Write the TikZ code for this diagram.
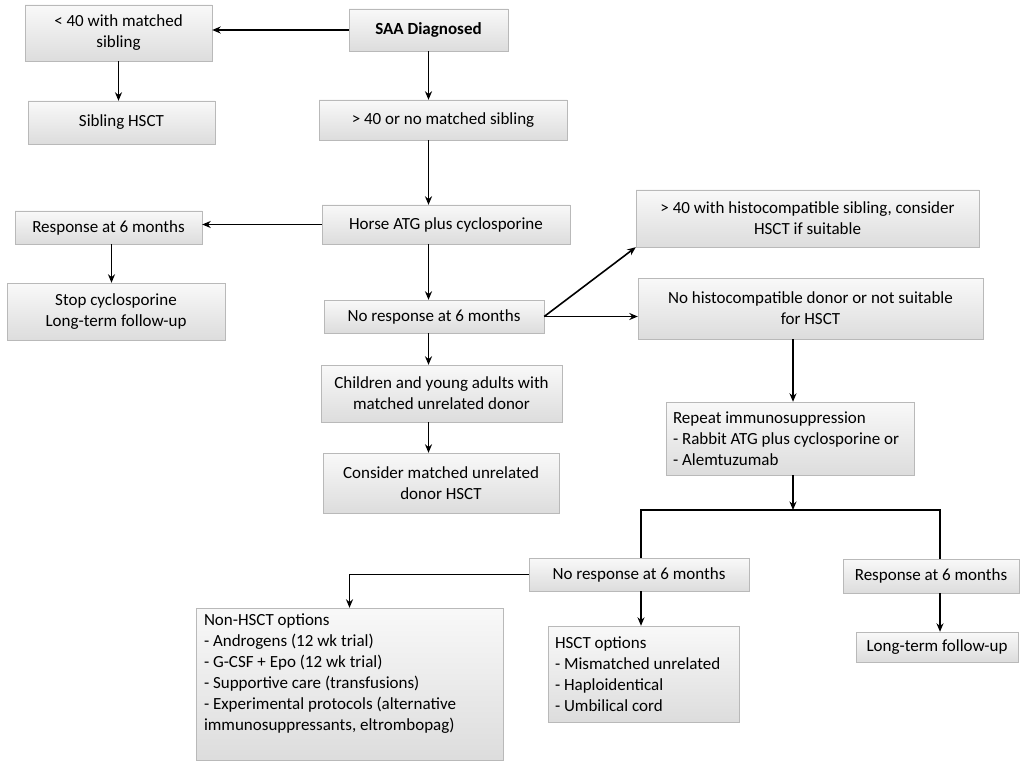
\documentclass[tikz,border=0pt]{standalone}
\usepackage{fontspec}
\setmainfont{Carlito}
\usetikzlibrary{arrows.meta}

\tikzset{
  box/.style={draw=gray!55, top color=gray!5, bottom color=gray!27, inner sep=0pt,
    align=center, font=\fontsize{17}{21}\selectfont},
  lbox/.style={box, align=flush left, inner xsep=7pt},
  arr/.style={-{Stealth[length=8.5pt,width=7pt]}, line width=1.6pt},
  ln/.style={line width=1.6pt}
}

\begin{document}
\begin{tikzpicture}[x=1pt, y={(0pt,-1pt)}]
        \useasboundingbox (0,0) rectangle (1024,767);

        %top
        \node[box, font=\fontsize{17}{21}\selectfont\bfseries, minimum width=159pt, minimum height=42pt] (saa) at (428.5,30) {SAA Diagnosed};
        \node[box, minimum width=187pt, minimum height=56pt] (lt40) at (118.5,33) {< 40 with matched\\ sibling};
        \node[box, minimum width=187pt, minimum height=43pt] (sibhsct) at (121.5,122.5) {Sibling HSCT};
        \node[box, minimum width=248pt, minimum height=40pt] (gt40) at (443,120) {> 40 or no matched sibling};

        %first line treatment
        \node[box, minimum width=248pt, minimum height=39pt] (horse) at (446,224.5) {Horse ATG plus cyclosporine};
        \node[box, minimum width=187pt, minimum height=33pt] (resp1) at (108.5,227.5) {Response at 6 months};
        \node[box, minimum width=218pt, minimum height=57pt] (stop) at (116,311.5) {Stop cyclosporine\\ Long-term follow-up};
        \node[box, minimum width=220pt, minimum height=33pt] (noresp1) at (434,316.5) {No response at 6 months};
        \node[box, minimum width=343pt, minimum height=57pt] (hist) at (807.5,218.5) {> 40 with histocompatible sibling, consider\\ HSCT if suitable};
        \node[box, minimum width=345pt, minimum height=61pt] (nohist) at (810.5,308.5) {No histocompatible donor or not suitable\\ for HSCT};
        \node[box, minimum width=241pt, minimum height=57pt] (child) at (441.5,393.5) {Children and young adults with\\ matched unrelated donor};
        \node[box, minimum width=236pt, minimum height=60pt] (consider) at (441,483) {Consider matched unrelated\\ donor HSCT};

        %second line treatment
        \node[lbox, text width=234pt, minimum height=73pt] (repeat) at (790,438.5) {Repeat immunosuppression\\ - Rabbit ATG plus cyclosporine or\\ - Alemtuzumab};
        \coordinate (split) at (793,510);
        \node[box, minimum width=220pt, minimum height=33pt] (noresp2) at (639,574.5) {No response at 6 months};
        \node[box, minimum width=176pt, minimum height=34pt] (resp2) at (931,576) {Response at 6 months};
        \node[box, minimum width=162pt, minimum height=30pt] (longterm) at (937,647) {Long-term follow-up};
        \node[box, minimum width=307pt, minimum height=152pt] (nonhsct) at (349.5,684) {\parbox[c][140pt][t]{291pt}{\raggedright Non-HSCT options\\ - Androgens (12 wk trial)\\ - G-CSF + Epo (12 wk trial)\\ - Supportive care (transfusions)\\ - Experimental protocols (alternative\\ immunosuppressants, eltrombopag)}};
        \node[lbox, text width=177pt, minimum height=96pt] (hsctopt) at (643.5,674) {HSCT options\\ - Mismatched unrelated\\ - Haploidentical\\ - Umbilical cord};

        %arrows
        \draw[arr] (saa.west) -- (saa.west -| lt40.east);
        \draw[arr] (lt40.south) -- (lt40.south |- sibhsct.north);
        \draw[arr] (saa.south) -- (saa.south |- gt40.north);
        \draw[arr] (saa.south |- gt40.south) -- (saa.south |- horse.north);
        \draw[arr] (horse.west) -- (horse.west -| resp1.east);
        \draw[arr] ([xshift=3pt]resp1.south) -- ([xshift=3pt]resp1.south |- stop.north);
        \draw[arr] (saa.south |- horse.south) -- (saa.south |- noresp1.north);
        \draw[arr] (saa.south |- noresp1.south) -- (saa.south |- child.north);
        \draw[arr] (saa.south |- child.south) -- (saa.south |- consider.north);
        \draw[arr] (noresp1.east) -- (hist.south west);
        \draw[arr] (noresp1.east) -- (noresp1.east -| nohist.west);
        \draw[arr] (split |- nohist.south) -- (split |- repeat.north);
        \draw[arr] (repeat.south -| split) -- (split);
        \draw[ln] ([xshift=2pt]noresp2.north) |- (split) -| ([xshift=9pt]resp2.north);
        \draw[arr] ([xshift=9pt]resp2.south) -- ([xshift=9pt]resp2.south |- longterm.north);
        \draw[arr] (noresp2.west) -| (nonhsct.north);
        \draw[arr] ([xshift=2pt]noresp2.south) -- ([xshift=2pt]noresp2.south |- hsctopt.north);
    \end{tikzpicture}
\end{document}
